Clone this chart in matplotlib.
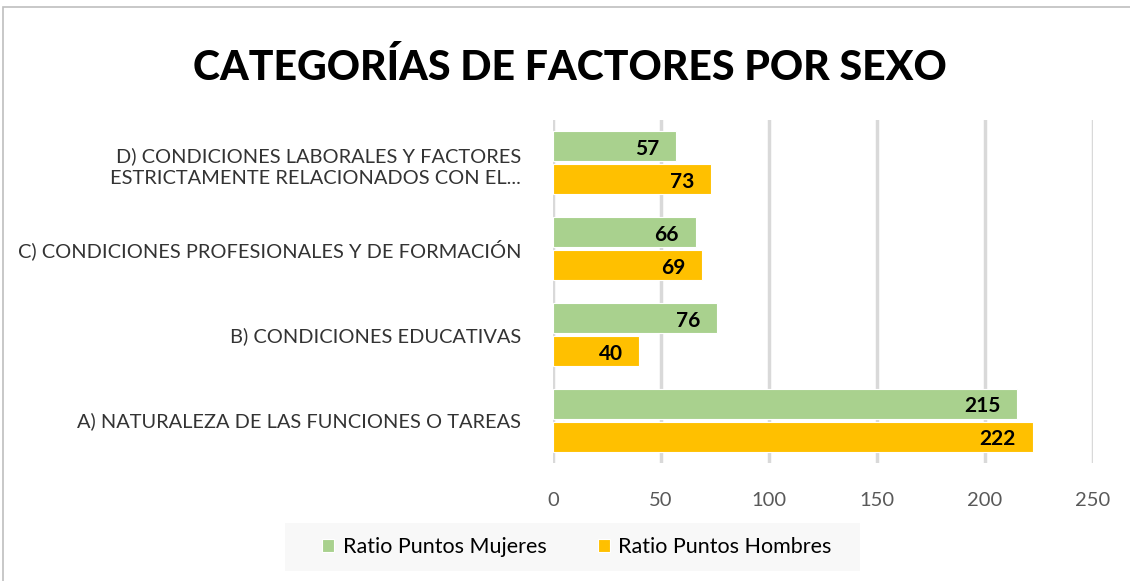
import numpy as np
import matplotlib.pyplot as plt
from matplotlib.patches import Rectangle

categorias = [
    "A) NATURALEZA DE LAS FUNCIONES O TAREAS",
    "B) CONDICIONES EDUCATIVAS",
    "C) CONDICIONES PROFESIONALES Y DE FORMACIÓN",
    "D) CONDICIONES LABORALES Y FACTORES\nESTRICTAMENTE RELACIONADOS CON EL...",
]
mujeres = [215, 76, 66, 57]
hombres = [222, 40, 69, 73]
series = ["Ratio Puntos Mujeres", "Ratio Puntos Hombres"]
xticks = [0, 50, 100, 150, 200, 250]

verde = "#A9D18E"
naranja = "#FFC000"

plt.rcParams['font.family'] = ['Lato', 'DejaVu Sans']

fig = plt.figure(figsize=(11.3, 5.81), dpi=100)
ax = fig.add_axes([553 / 1130, 1 - 463 / 581, 540 / 1130, 343 / 581])

y = np.arange(len(categorias))
h = 0.35
off = 0.193
b1 = ax.barh(y + off, mujeres, height=h, color=verde, edgecolor="white", linewidth=0.8, zorder=2, label=series[0])
b2 = ax.barh(y - off, hombres, height=h, color=naranja, edgecolor="white", linewidth=0.8, zorder=2, label=series[1])

for bars in (b1, b2):
    for r in bars:
        ax.annotate(f"{int(r.get_width())}", (r.get_width(), r.get_y() + r.get_height() / 2),
                    xytext=(-12, -2), textcoords="offset points", ha="right", va="center",
                    fontsize=15, fontweight="bold", color="black", zorder=3)

ax.set_xlim(0, 250)
ax.set_ylim(-0.5, 3.5)
ax.set_xticks(xticks)
ax.set_xticklabels([str(t) for t in xticks], fontsize=14.5, color="#595959")
ax.set_yticks(y)
ax.set_yticklabels(categorias, fontsize=14.4, color="#333333", ha="right", linespacing=1.35)
ax.tick_params(axis="both", length=0)
ax.tick_params(axis="y", pad=23)
ax.tick_params(axis="x", pad=21)
ax.grid(axis="x", color="#D9D9D9", linewidth=2.5, zorder=0)
ax.grid(axis="y", visible=False)
for s in ax.spines.values():
    s.set_visible(False)

fig.text(570 / 1130, 1 - 67 / 581, "CATEGORÍAS DE FACTORES POR SEXO", ha="center", va="center",
         fontsize=29.5, fontweight="black", color="black")

# legend box
fig.patches.append(Rectangle((285 / 1130, 1 - 571 / 581), 575 / 1130, 48 / 581,
                             transform=fig.transFigure, facecolor="#F8F8F8", edgecolor="none", zorder=0))
leg = fig.legend(handles=[b1, b2], loc="center", bbox_to_anchor=(577 / 1130, 1 - 547 / 581),
                 ncol=2, frameon=False, fontsize=15.5, handlelength=0.55, handleheight=0.55,
                 columnspacing=2.4, handletextpad=0.4)
for t in leg.get_texts():
    t.set_color("#000000")

# chart border
fig.patches.append(Rectangle((3 / 1130, -0.1), 1.2, 1 - 7 / 581 + 0.1, transform=fig.transFigure,
                             facecolor="none", edgecolor="#BFBFBF", linewidth=1.2))

fig.savefig("out.png", dpi=100)
